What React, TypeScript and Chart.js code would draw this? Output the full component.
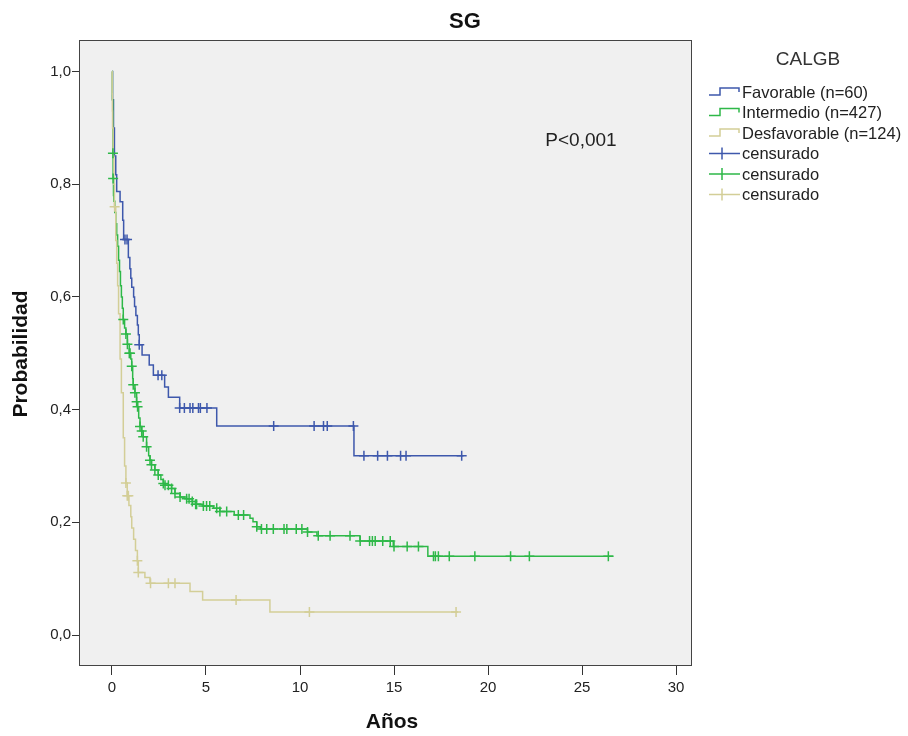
import React, { useEffect, useRef } from "react";
import { Chart, registerables } from "chart.js";

Chart.register(...registerables);

// ---- axis ticks ----
const xTicks = [0, 5, 10, 15, 20, 25, 30];
const yTicks = [0, 0.2, 0.4, 0.6, 0.8, 1.0];

// ---- Favorable (n=60) ----
const favTimes = [0, 0.03, 0.08, 0.13, 0.2, 0.25, 0.43, 0.57, 0.62, 0.87, 0.95, 1.0, 1.05, 1.15, 1.2, 1.27, 1.35, 1.4, 1.45, 1.6, 1.98, 2.2, 2.8, 3.0, 3.6, 5.57, 12.87];
const favSurv = [1.0, 0.95, 0.9, 0.85, 0.817, 0.787, 0.769, 0.736, 0.702, 0.67, 0.65, 0.633, 0.617, 0.6, 0.583, 0.567, 0.55, 0.533, 0.515, 0.497, 0.479, 0.461, 0.44, 0.422, 0.403, 0.371, 0.318];
const favCensor = [0.69, 0.8, 1.45, 2.45, 2.65, 3.6, 3.85, 4.15, 4.3, 4.6, 4.7, 5.05, 8.6, 10.75, 11.25, 11.45, 12.84, 13.4, 14.13, 14.65, 15.35, 15.64, 18.6];
const favEnd = 18.7;

// ---- Intermedio (n=427) ----
const intTimes = [0, 0.02, 0.04, 0.05, 0.06, 0.08, 0.1, 0.15, 0.2, 0.25, 0.3, 0.35, 0.4, 0.45, 0.5, 0.55, 0.6, 0.67, 0.74, 0.82, 0.92, 1.0, 1.05, 1.1, 1.13, 1.22, 1.31, 1.36, 1.42, 1.49, 1.58, 1.66, 1.84, 1.95, 2.02, 2.1, 2.28, 2.46, 2.6, 2.73, 2.82, 3.17, 3.35, 3.62, 3.97, 4.27, 4.45, 4.86, 5.4, 5.74, 6.5, 7.34, 7.5, 7.7, 7.9, 10.4, 10.9, 13.19, 14.96, 16.8];
const intSurv = [1.0, 0.95, 0.9, 0.855, 0.81, 0.78, 0.77, 0.75, 0.73, 0.71, 0.69, 0.665, 0.645, 0.62, 0.6, 0.58, 0.56, 0.545, 0.534, 0.516, 0.5, 0.49, 0.477, 0.455, 0.444, 0.43, 0.414, 0.405, 0.385, 0.37, 0.362, 0.352, 0.334, 0.318, 0.31, 0.302, 0.293, 0.284, 0.276, 0.269, 0.266, 0.26, 0.251, 0.245, 0.242, 0.237, 0.232, 0.229, 0.225, 0.219, 0.213, 0.207, 0.201, 0.192, 0.188, 0.183, 0.176, 0.167, 0.157, 0.14];
const intCensor = [0.05, 0.06, 0.6, 0.74, 0.82, 0.92, 0.96, 1.05, 1.13, 1.22, 1.31, 1.36, 1.49, 1.58, 1.66, 1.84, 2.02, 2.1, 2.28, 2.46, 2.73, 2.82, 3.0, 3.17, 3.35, 3.62, 3.97, 4.1, 4.27, 4.45, 4.5, 4.86, 5.03, 5.2, 5.57, 5.74, 6.1, 6.72, 7.0, 7.7, 7.95, 8.23, 8.58, 9.15, 9.3, 9.8, 10.1, 10.4, 10.97, 11.6, 12.66, 13.2, 13.7, 13.85, 14.0, 14.4, 14.8, 15.0, 15.7, 16.3, 17.1, 17.2, 17.36, 17.94, 19.3, 21.2, 22.2, 26.4];
const intEnd = 26.67;

// ---- Desfavorable (n=124) ----
const desTimes = [0, 0.01, 0.02, 0.03, 0.06, 0.1, 0.13, 0.2, 0.25, 0.3, 0.35, 0.43, 0.5, 0.6, 0.67, 0.74, 0.81, 0.9, 1.0, 1.05, 1.15, 1.25, 1.35, 1.4, 1.75, 2.02, 4.15, 4.82, 8.4];
const desSurv = [1.0, 0.96, 0.93, 0.9, 0.85, 0.8, 0.76, 0.7, 0.66, 0.62, 0.57, 0.49, 0.43, 0.35, 0.3, 0.27, 0.247, 0.23, 0.21, 0.19, 0.17, 0.15, 0.132, 0.111, 0.102, 0.092, 0.077, 0.062, 0.041];
const desCensor = [0.14, 0.74, 0.81, 0.87, 1.35, 1.4, 2.05, 3.0, 3.35, 6.6, 10.5, 18.3];
const desEnd = 18.4;

const BLUE = "rgb(62,88,172)";
const GREEN = "rgb(46,184,72)";
const TAN = "rgb(211,206,151)";
const FONT = "'Liberation Sans', Arial, sans-serif";

function stepPoints(times: number[], surv: number[], end: number) {
  const pts = times.map((t, i) => ({ x: t, y: surv[i] }));
  pts.push({ x: end, y: surv[surv.length - 1] });
  return pts;
}

function censorPoints(times: number[], surv: number[], cens: number[]) {
  return cens.map((c) => {
    let s = surv[0];
    for (let i = 0; i < times.length; i++) if (times[i] <= c) s = surv[i];
    return { x: c, y: s };
  });
}

const decor = {
  id: "decor",
  beforeDatasetsDraw(chart: any) {
    const { ctx, chartArea: a } = chart;
    ctx.save();
    ctx.fillStyle = "#f0f0f0";
    ctx.fillRect(a.left, a.top, a.right - a.left, a.bottom - a.top);
    ctx.restore();
  },
  afterDraw(chart: any) {
    const { ctx, chartArea: a } = chart;
    ctx.save();
    ctx.strokeStyle = "#444";
    ctx.lineWidth = 1;
    ctx.strokeRect(a.left + 0.5, a.top + 0.5, a.right - a.left - 1, a.bottom - a.top - 1);

    ctx.fillStyle = "#111";
    ctx.textAlign = "center";
    ctx.textBaseline = "middle";
    ctx.font = `bold 22px ${FONT}`;
    ctx.fillText("SG", 465, 22);
    ctx.font = `bold 21px ${FONT}`;
    ctx.fillText("Años", 392, 722);
    ctx.save();
    ctx.translate(21, 354);
    ctx.rotate(-Math.PI / 2);
    ctx.fillText("Probabilidad", 0, 0);
    ctx.restore();

    ctx.font = `19px ${FONT}`;
    ctx.fillStyle = "#222";
    ctx.fillText("P<0,001", 581, 141);

    // legend
    ctx.fillStyle = "#333";
    ctx.font = `19px ${FONT}`;
    ctx.fillText("CALGB", 808, 60);
    ctx.textAlign = "left";
    ctx.font = `16.5px ${FONT}`;
    const rows = [
      { label: "Favorable (n=60)", color: BLUE, step: true },
      { label: "Intermedio (n=427)", color: GREEN, step: true },
      { label: "Desfavorable (n=124)", color: TAN, step: true },
      { label: "censurado", color: BLUE, step: false },
      { label: "censurado", color: GREEN, step: false },
      { label: "censurado", color: TAN, step: false },
    ];
    rows.forEach((r, i) => {
      const y = 92 + i * 20.5;
      ctx.strokeStyle = r.color;
      ctx.lineWidth = 1.5;
      ctx.beginPath();
      if (r.step) {
        ctx.moveTo(709, y + 3);
        ctx.lineTo(720, y + 3);
        ctx.lineTo(720, y - 4);
        ctx.lineTo(739, y - 4);
        ctx.lineTo(739, y);
      } else {
        ctx.moveTo(709, y);
        ctx.lineTo(740, y);
        ctx.moveTo(722, y - 6);
        ctx.lineTo(722, y + 6);
      }
      ctx.stroke();
      ctx.fillStyle = "#222";
      ctx.fillText(r.label, 742, y + 1);
    });
    ctx.restore();
  },
};

export default function App() {
  const ref = useRef<HTMLCanvasElement>(null);
  useEffect(() => {
    if (!ref.current) return;
    const lineDs = (label: string, data: any[], color: string, order: number) => ({
      type: "line" as const,
      label,
      data,
      borderColor: color,
      backgroundColor: color,
      borderWidth: 1.5,
      stepped: true,
      pointRadius: 0,
      fill: false,
      order,
    });
    const censDs = (label: string, data: any[], color: string) => ({
      type: "scatter" as const,
      label,
      data,
      borderColor: color,
      backgroundColor: color,
      pointStyle: "cross",
      pointRadius: 5,
      pointBorderWidth: 1.5,
      showLine: false,
      order: 0,
    });
    const chart = new Chart(ref.current, {
      type: "line",
      data: {
        datasets: [
          lineDs("Favorable (n=60)", stepPoints(favTimes, favSurv, favEnd), BLUE, 3),
          lineDs("Intermedio (n=427)", stepPoints(intTimes, intSurv, intEnd), GREEN, 2),
          lineDs("Desfavorable (n=124)", stepPoints(desTimes, desSurv, desEnd), TAN, 1),
          censDs("censurado", censorPoints(favTimes, favSurv, favCensor), BLUE),
          censDs("censurado", censorPoints(intTimes, intSurv, intCensor), GREEN),
          censDs("censurado", censorPoints(desTimes, desSurv, desCensor), TAN),
        ] as any,
      },
      options: {
        animation: false,
        responsive: false,
        layout: { padding: { left: 0, top: 40, right: 216, bottom: 0 } },
        plugins: { legend: { display: false }, title: { display: false }, tooltip: { enabled: false } },
        scales: {
          x: {
            type: "linear",
            min: -1.755,
            max: 30.85,
            afterBuildTicks: (s: any) => {
              s.ticks = xTicks.map((v) => ({ value: v }));
            },
            afterFit: (s: any) => {
              s.height = 70;
            },
            grid: { drawOnChartArea: false, drawTicks: true, tickLength: 9, color: "#333" },
            border: { display: false },
            ticks: { color: "#222", font: { family: FONT, size: 15 }, padding: 4, maxRotation: 0 },
          },
          y: {
            type: "linear",
            min: -0.055,
            max: 1.056,
            afterBuildTicks: (s: any) => {
              s.ticks = yTicks.map((v) => ({ value: v }));
            },
            afterFit: (s: any) => {
              s.width = 79;
            },
            grid: { drawOnChartArea: false, drawTicks: true, tickLength: 7, color: "#333" },
            border: { display: false },
            ticks: {
              color: "#222",
              font: { family: FONT, size: 15 },
              padding: 1,
              callback: (v: any) => Number(v).toFixed(1).replace(".", ","),
            },
          },
        },
      },
      plugins: [decor],
    });
    return () => chart.destroy();
  }, []);
  return (
    <div style={{ position: "fixed", left: 0, top: 0, width: 908, height: 736, background: "#fff" }}>
      <canvas ref={ref} width={908} height={736} />
    </div>
  );
}
